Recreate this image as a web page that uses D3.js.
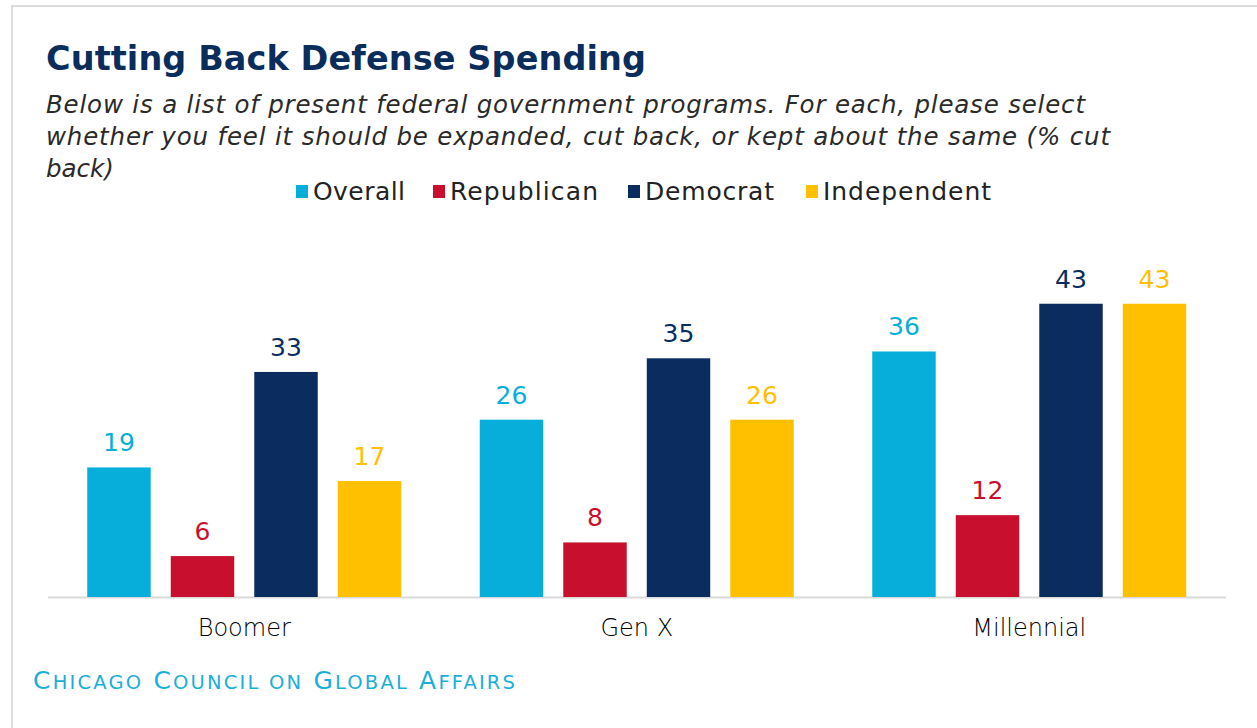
<!DOCTYPE html>
<html>
<head>
<meta charset="utf-8">
<script src="https://cdn.jsdelivr.net/npm/d3@7"></script>
<style>
  html, body { margin: 0; padding: 0; background: #fff; }
  svg { display: block; }
</style>
</head>
<body>
<svg id="chart" width="1257" height="728"></svg>
<script>
// Share saying defense spending should be cut back, by generation and party
const generations = ["Boomer", "Gen X", "Millennial"];
const seriesNames = ["Overall", "Republican", "Democrat", "Independent"];
const overall     = [19, 26, 36];
const republican  = [6, 8, 12];
const democrat    = [33, 35, 43];
const independent = [17, 26, 43];
const seriesColors = ["#07aed9", "#c8102e", "#0a2c5e", "#ffc000"];

const titleText = "Cutting Back Defense Spending";
const subtitleLines = [
  "Below is a list of present federal government programs. For each, please select",
  "whether you feel it should be expanded, cut back, or kept about the same (% cut",
  "back)"
];
const sourceText = "Chicago Council on Global Affairs";

const valuesBySeries = [overall, republican, democrat, independent];
const rows = generations.map((g, i) => ({
  generation: g,
  values: seriesNames.map((s, j) => ({ series: s, value: valuesBySeries[j][i] }))
}));

const svg = d3.select("#chart");
const font = "'DejaVu Sans', Verdana, sans-serif";

// stretch a text's letter spacing so it spans a given width
function spanTo(sel, target) {
  sel.attr("textLength", target).attr("lengthAdjust", "spacing");
}

// outer frame
svg.append("rect")
  .attr("x", 12).attr("y", 6)
  .attr("width", 1300).attr("height", 800)
  .attr("fill", "none")
  .attr("stroke", "#dcdcdc").attr("stroke-width", 2);

// title
const title = svg.append("text")
  .attr("x", 46).attr("y", 70)
  .attr("font-family", font).attr("font-weight", 700)
  .attr("font-size", 33.5).attr("fill", "#0b2d5c")
  .text(titleText);
spanTo(title, 600);

// subtitle
const subWidths = [1039, 1064, null];
subtitleLines.forEach((line, i) => {
  const t = svg.append("text")
    .attr("x", 46).attr("y", 113 + i * 32)
    .attr("font-family", font).attr("font-style", "italic")
    .attr("font-size", 24.5).attr("fill", "#2a2a2a")
    .text(line);
  if (subWidths[i]) spanTo(t, subWidths[i]);
});

// legend
const legendX = [296, 433, 628, 806];
const legendW = [92, 148, 129, 168];
const legend = svg.append("g");
seriesNames.forEach((s, i) => {
  legend.append("rect")
    .attr("x", legendX[i]).attr("y", 185)
    .attr("width", 12).attr("height", 13)
    .attr("fill", seriesColors[i]);
  const t = legend.append("text")
    .attr("x", legendX[i] + 17).attr("y", 200)
    .attr("font-family", font).attr("font-size", 25)
    .attr("fill", "#222")
    .text(s);
  spanTo(t, legendW[i]);
});

// scales
const x0 = d3.scaleBand().domain(generations).range([48, 1225.5]);
const x1 = d3.scaleBand().domain(seriesNames)
  .range([0, x0.bandwidth()]).paddingInner(0.24).paddingOuter(0.47);
const y = d3.scaleLinear().domain([0, 50]).range([597, 256]);
const color = d3.scaleOrdinal().domain(seriesNames).range(seriesColors);

// baseline
svg.append("line")
  .attr("x1", 48).attr("x2", 1226)
  .attr("y1", y(0) + 0.5).attr("y2", y(0) + 0.5)
  .attr("stroke", "#d9d9d9").attr("stroke-width", 2);

// bars and value labels
const groups = svg.append("g").selectAll("g")
  .data(rows).join("g")
  .attr("transform", d => `translate(${x0(d.generation)},0)`);

groups.selectAll("rect")
  .data(d => d.values).join("rect")
  .attr("x", d => x1(d.series))
  .attr("y", d => y(d.value))
  .attr("width", x1.bandwidth())
  .attr("height", d => y(0) - y(d.value))
  .attr("fill", d => color(d.series));

groups.selectAll("text")
  .data(d => d.values).join("text")
  .attr("x", d => x1(d.series) + x1.bandwidth() / 2)
  .attr("y", d => y(d.value) - 16)
  .attr("text-anchor", "middle")
  .attr("font-family", font)
  .attr("font-size", 25)
  .attr("fill", d => color(d.series))
  .text(d => d.value);

// category axis
const xAxis = svg.append("g")
  .attr("transform", `translate(0,${y(0)})`)
  .call(d3.axisBottom(x0).tickSize(0).tickPadding(22));
xAxis.select(".domain").remove();
xAxis.selectAll("text")
  .attr("font-family", font).attr("font-size", 24).attr("font-weight", 200)
  .attr("fill", "#000")
  .attr("dy", "0.71em");

// source line, set in small capitals
const src = svg.append("text")
  .attr("x", 33).attr("y", 689)
  .attr("font-family", font)
  .attr("fill", "#1aafd8");
sourceText.split(" ").forEach((word, i) => {
  const lead = word[0] === word[0].toUpperCase() ? word[0] : "";
  const rest = lead ? word.slice(1) : word;
  if (lead) {
    src.append("tspan")
      .attr("font-size", 25)
      .text((i ? " " : "") + lead);
  }
  src.append("tspan")
    .attr("font-size", 19.5)
    .text((!lead && i ? " " : "") + rest.toUpperCase());
});
spanTo(src, 482);
</script>
</body>
</html>
